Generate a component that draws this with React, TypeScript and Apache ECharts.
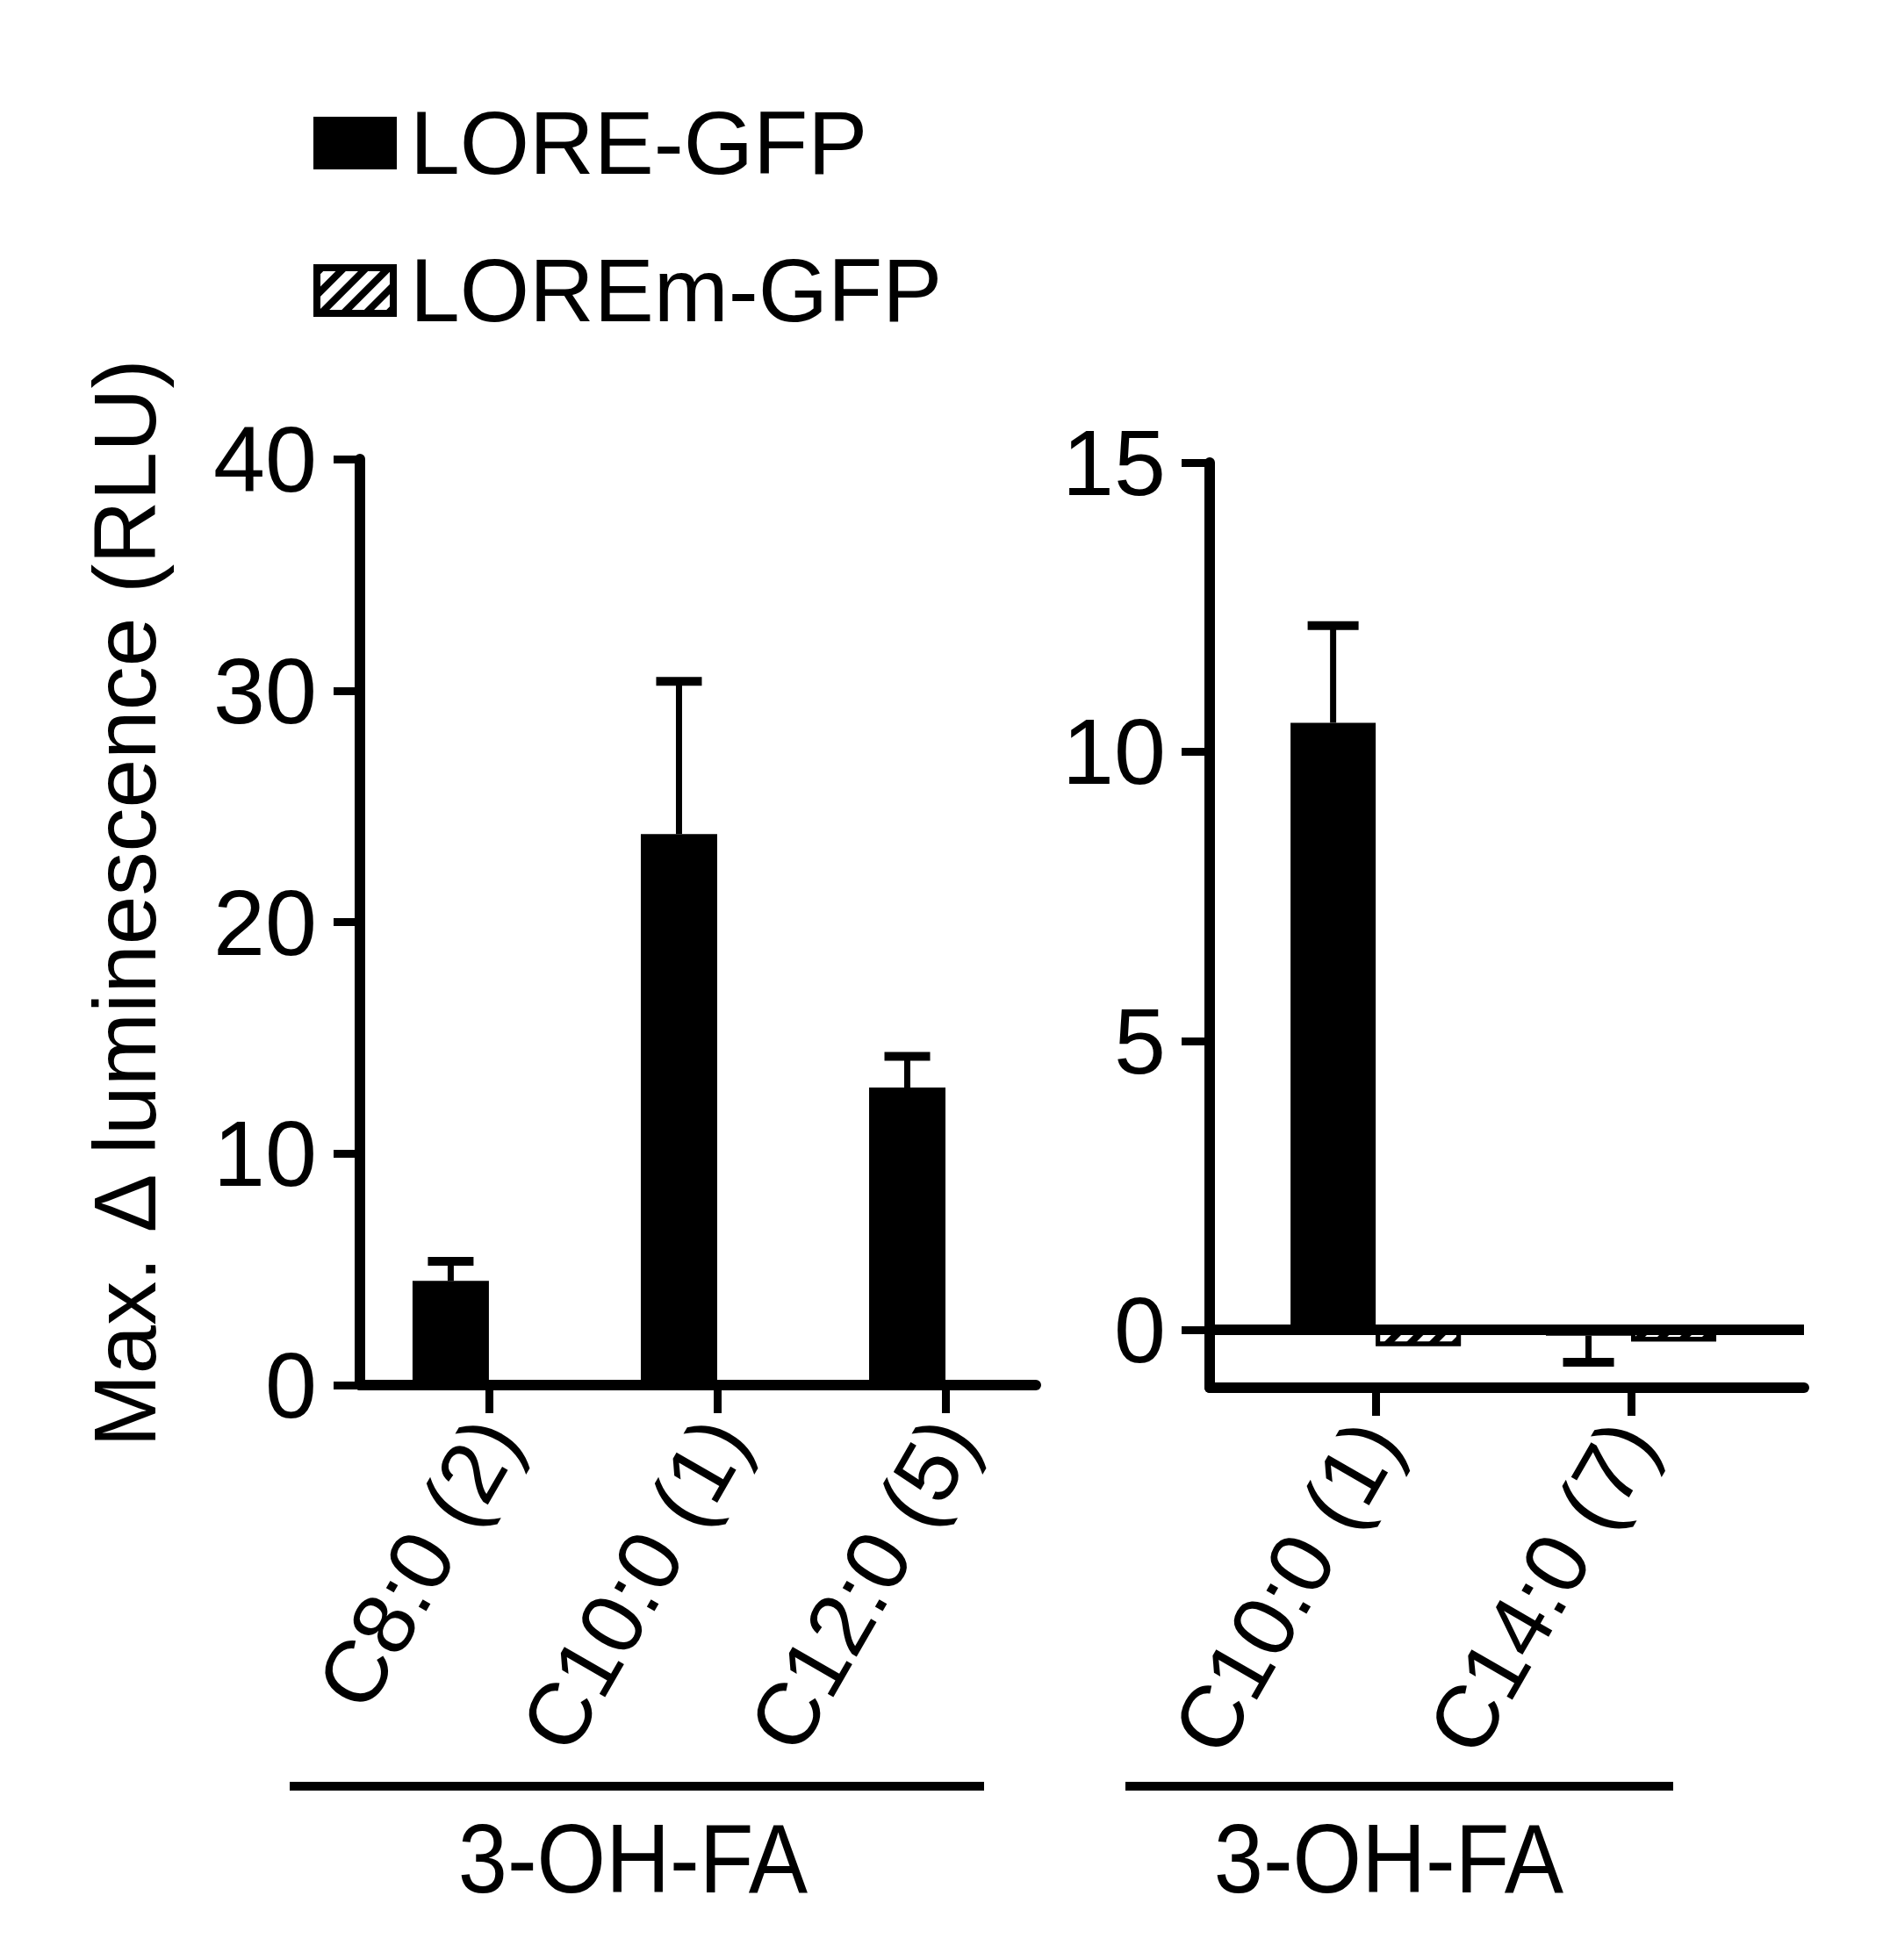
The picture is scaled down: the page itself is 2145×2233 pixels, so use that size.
import React, { useEffect, useRef } from 'react';
import * as echarts from 'echarts';

const legendNames = ['LORE-GFP', 'LOREm-GFP'];
const leftCategories = ['C8:0 (2)', 'C10:0 (1)', 'C12:0 (5)'];
const leftLore = [4.5, 23.8, 12.85];
const leftLoreErr = [0.85, 6.6, 1.35];
const leftLorem = [0.15, 0.15, 0.15];
const leftTicks = [0, 10, 20, 30, 40];
const rightCategories = ['C10:0 (1)', 'C14:0 (7)'];
const rightLore = [10.5, -0.1];
const rightLoreErr = [1.68, 0.46];
const rightLorem = [-0.28, -0.2];
const rightTicks = [0, 5, 10, 15];
const yTitle = 'Max. Δ luminescence (RLU)';
const groupLabel = '3-OH-FA';

const FONT = '"Liberation Sans", Arial, sans-serif';
const BLACK = '#000';

const hatchStyle = {
  color: '#fff',
  borderColor: BLACK,
  borderWidth: 5,
  decal: {
    symbol: 'rect',
    symbolSize: 1,
    dashArrayX: [[1, 0]],
    dashArrayY: [8, 10],
    rotation: -Math.PI / 4,
    color: BLACK,
    backgroundColor: '#fff',
  },
};

function errorSeries(xIdx: number, vals: number[], errs: number[], barW: number, capW: number) {
  return {
    type: 'custom',
    xAxisIndex: xIdx,
    yAxisIndex: xIdx,
    silent: true,
    clip: false,
    z: 5,
    data: vals.map((v, i) => [i, v, v + (v >= 0 ? 1 : -1) * errs[i]]),
    renderItem: (params: any, api: any) => {
      const x = api.value(0);
      const v = api.value(1);
      const e = api.value(2);
      const p0 = api.coord([x, v]);
      const p1 = api.coord([x, e]);
      const cx = p0[0] - barW / 2;
      return {
        type: 'group',
        children: [
          { type: 'line', shape: { x1: cx, y1: p0[1], x2: cx, y2: p1[1] }, style: { stroke: BLACK, lineWidth: 7 } },
          { type: 'line', shape: { x1: cx - capW / 2, y1: p1[1], x2: cx + capW / 2, y2: p1[1] }, style: { stroke: BLACK, lineWidth: 10 } },
        ],
      };
    },
  };
}

const axisLine = { show: true, onZero: false, lineStyle: { color: BLACK, width: 12 } };
const tickStyle = { color: BLACK, width: 9 };

function labelStyle(cats: string[], shift: number) {
  const vals = cats.map((_, i) => i + shift);
  return {
    customValues: vals,
    formatter: (v: number) => cats[Math.round(v - shift)] ?? '',
    rotate: 60,
    margin: 46,
    fontSize: 100,
    color: BLACK,
    fontFamily: FONT,
  };
}

function groupText(x: number) {
  return {
    type: 'text',
    x,
    y: 2117,
    scaleY: 1.1,
    style: {
      text: groupLabel, fontSize: 101, fontFamily: FONT, fill: BLACK,
      align: 'center', verticalAlign: 'middle', textAlign: 'center', textVerticalAlign: 'middle',
    },
  };
}

function buildOption() {
  return {
    animation: false,
    backgroundColor: '#fff',
    textStyle: { fontFamily: FONT },
    legend: {
      data: legendNames,
      orient: 'vertical',
      left: 357,
      top: 112,
      padding: 0,
      itemWidth: 87,
      itemHeight: 52,
      itemGap: 66,
      icon: 'rect',
      selectedMode: false,
      itemStyle: { borderColor: BLACK, borderWidth: 8 },
      textStyle: { fontSize: 102, fontFamily: FONT, color: BLACK, padding: [0, 0, 0, 14] },
    },
    grid: [
      { left: 410, top: 523, width: 770, height: 1055 },
      { left: 1378, top: 527, width: 677, height: 1054 },
    ],
    xAxis: [
      {
        gridIndex: 0,
        type: 'value',
        min: -0.565,
        max: 2.396,
        axisLine: { ...axisLine },
        splitLine: { show: false },
        axisTick: { show: true, customValues: [0, 1, 2], length: 32, lineStyle: tickStyle },
        axisLabel: labelStyle(leftCategories, 0.04),
      },
      {
        gridIndex: 1,
        type: 'value',
        position: 'bottom',
        min: -0.65,
        max: 1.677,
        axisLine: { ...axisLine },
        splitLine: { show: false },
        axisTick: { show: true, customValues: [0, 1], length: 32, lineStyle: tickStyle },
        axisLabel: labelStyle(rightCategories, 0.01),
      },
    ],
    yAxis: [
      {
        gridIndex: 0,
        type: 'value',
        min: leftTicks[0],
        max: leftTicks[leftTicks.length - 1],
        interval: 10,
        axisLine: { ...axisLine },
        splitLine: { show: false },
        axisTick: { show: true, length: 30, lineStyle: tickStyle },
        axisLabel: { margin: 49, fontSize: 106, color: BLACK, fontFamily: FONT },
      },
      {
        gridIndex: 1,
        type: 'value',
        min: -1,
        max: rightTicks[rightTicks.length - 1],
        axisLine: { ...axisLine },
        splitLine: { show: false },
        axisTick: { show: true, customValues: rightTicks, length: 32, lineStyle: tickStyle },
        axisLabel: { customValues: rightTicks, margin: 50, fontSize: 106, color: BLACK, fontFamily: FONT },
      },
    ],
    series: [
      {
        name: legendNames[0],
        type: 'bar',
        xAxisIndex: 0,
        yAxisIndex: 0,
        barWidth: 87,
        barGap: '0%',
        itemStyle: { color: BLACK },
        data: leftLore.map((v, i) => [i, v]),
      },
      {
        name: legendNames[1],
        type: 'bar',
        xAxisIndex: 0,
        yAxisIndex: 0,
        barWidth: 87,
        barGap: '0%',
        itemStyle: hatchStyle,
        data: leftLorem.map((v, i) => [i, v]),
      },
      errorSeries(0, leftLore, leftLoreErr, 87, 52),
      {
        name: legendNames[0],
        type: 'bar',
        xAxisIndex: 1,
        yAxisIndex: 1,
        barWidth: 97,
        barGap: '0%',
        itemStyle: { color: BLACK },
        data: rightLore.map((v, i) => [i, v]),
      },
      {
        name: legendNames[1],
        type: 'bar',
        xAxisIndex: 1,
        yAxisIndex: 1,
        barWidth: 97,
        barGap: '0%',
        itemStyle: hatchStyle,
        data: rightLorem.map((v, i) => [i, v]),
        markLine: {
          silent: true,
          symbol: ['none', 'none'],
          label: { show: false },
          lineStyle: { color: BLACK, width: 12, type: 'solid' },
          data: [{ yAxis: 0 }],
        },
      },
      errorSeries(1, rightLore, rightLoreErr, 97, 58),
    ],
    graphic: [
      {
        type: 'text',
        x: 142,
        y: 1029,
        rotation: Math.PI / 2,
        style: {
          text: yTitle,
          fontSize: 100,
          fontFamily: FONT,
          fill: BLACK,
          align: 'center',
          verticalAlign: 'middle',
          textAlign: 'center',
          textVerticalAlign: 'middle',
        },
      },
      { type: 'line', shape: { x1: 330, y1: 2035, x2: 1121, y2: 2035 }, style: { stroke: BLACK, lineWidth: 10 } },
      { type: 'line', shape: { x1: 1282, y1: 2035, x2: 1906, y2: 2035 }, style: { stroke: BLACK, lineWidth: 10 } },
      groupText(721),
      groupText(1582),
    ],
  };
}

export default function App() {
  const ref = useRef<HTMLDivElement>(null);
  useEffect(() => {
    if (!ref.current) return;
    const chart = echarts.init(ref.current, null, { renderer: 'svg' });
    chart.setOption(buildOption() as any);
    return () => chart.dispose();
  }, []);
  return (
    <div
      ref={ref}
      style={{ position: 'absolute', left: 0, top: 0, width: 2145, height: 2233, background: '#fff' }}
    />
  );
}
